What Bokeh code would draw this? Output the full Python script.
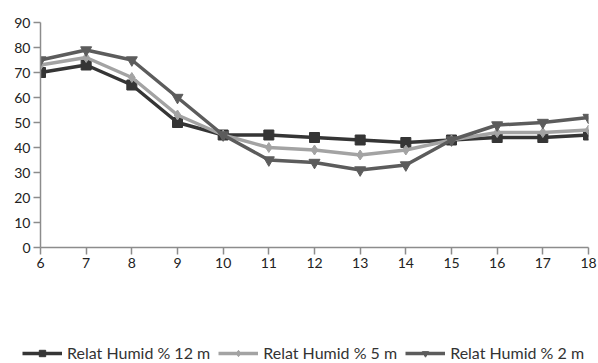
from bokeh.plotting import figure
from bokeh.models import Range1d, FixedTicker, Legend, LegendItem
from bokeh.embed import file_html
from bokeh.resources import INLINE

hours = [6, 7, 8, 9, 10, 11, 12, 13, 14, 15, 16, 17, 18]
rh_12m = [70, 73, 65, 50, 45, 45, 44, 43, 42, 43, 44, 44, 45]
rh_5m = [73, 76, 68, 53, 45, 40, 39, 37, 39, 43, 46, 46, 47]
rh_2m = [75, 79, 75, 60, 45, 35, 34, 31, 33, 43, 49, 50, 52]
names = ["Relat Humid % 12 m", "Relat Humid % 5 m", "Relat Humid % 2 m"]
y_ticks = [0, 10, 20, 30, 40, 50, 60, 70, 80, 90]

c12, c5, c2 = "#353535", "#a3a3a3", "#5c5c5c"
series = [(rh_12m, c12, "square", 10), (rh_5m, c5, "diamond", 10),
          (rh_2m, c2, "inverted_triangle", 11)]

p = figure(width=598, height=330, output_backend="svg", toolbar_location=None,
           x_range=Range1d(6, 18), y_range=Range1d(0, 90),
           min_border_left=40, min_border_right=10, min_border_top=22,
           min_border_bottom=83)
p.outline_line_color = None
p.xgrid.visible = False
p.ygrid.visible = False

for ax in (p.xaxis[0], p.yaxis[0]):
    ax.axis_line_color = "#8c8c8c"
    ax.axis_line_width = 1.5
    ax.major_tick_line_color = "#8c8c8c"
    ax.major_tick_line_width = 1.5
    ax.major_tick_out = 7
    ax.major_tick_in = 0
    ax.minor_tick_line_color = None
    ax.major_label_text_font = "Lato"
    ax.major_label_text_font_size = "14px"
    ax.major_label_text_color = "#222222"
p.xaxis.ticker = FixedTicker(ticks=hours)
p.yaxis.ticker = FixedTicker(ticks=y_ticks)
p.xaxis.major_label_standoff = 3
p.yaxis.major_label_standoff = 3

for vals, col, mk, sz in series:
    p.line(hours, vals, line_color=col, line_width=3.5)
    p.scatter(hours, vals, marker=mk, size=sz, fill_color=col, line_color=col)

# legend strip: same series drawn in a second figure whose ranges hide them
q = figure(width=598, height=33, output_backend="svg", toolbar_location=None,
           x_range=Range1d(100, 101), y_range=Range1d(100, 101),
           min_border=0)
q.axis.visible = False
q.grid.visible = False
q.outline_line_color = None
items = []
for (vals, col, mk, sz), name in zip(series, names):
    ln = q.line(hours, vals, line_color=col, line_width=3.5)
    sc = q.scatter(hours, vals, marker=mk, size=sz, fill_color=col, line_color=col)
    items.append(LegendItem(label=name, renderers=[ln, sc]))

legend = Legend(items=items, orientation="horizontal", location=(22, 1),
                border_line_color=None, background_fill_alpha=0,
                label_text_font="Lato", label_text_font_size="16px",
                label_text_color="#333333", glyph_width=40, glyph_height=16,
                label_standoff=5, spacing=8, padding=2, margin=0)
q.add_layout(legend, "center")

open("out.html", "w").write(file_html([p, q], INLINE))
